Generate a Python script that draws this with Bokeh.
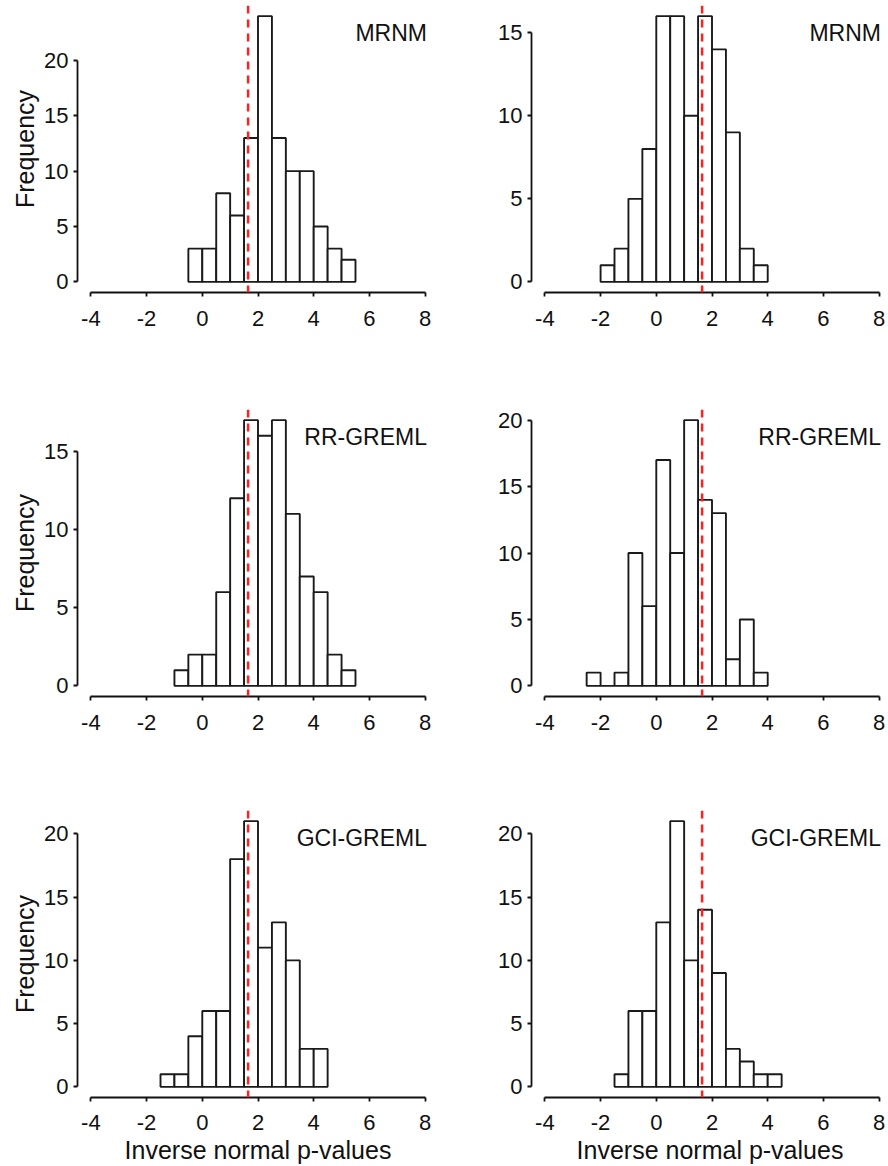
from bokeh.plotting import figure
from bokeh.layouts import column, row
from bokeh.models import Span, Label, FixedTicker, Range1d, CustomJSTickFormatter
from bokeh.embed import file_html
from bokeh.resources import INLINE

# ---------------- data ----------------
BIN_WIDTH = 0.5
THRESHOLD = 1.645          # dashed red reference line
X_TICKS = [-4, -2, 0, 2, 4, 6, 8]
METHODS = ["MRNM", "RR-GREML", "GCI-GREML"]

mrnm_left_start = -0.5
mrnm_left_counts = [3, 3, 8, 6, 13, 24, 13, 10, 10, 5, 3, 2]
mrnm_right_start = -2.0
mrnm_right_counts = [1, 2, 5, 8, 16, 16, 10, 16, 14, 9, 2, 1]

rr_left_start = -1.0
rr_left_counts = [1, 2, 2, 6, 12, 17, 16, 17, 11, 7, 6, 2, 1]
rr_right_start = -2.5
rr_right_counts = [1, 0, 1, 10, 6, 17, 10, 20, 14, 13, 2, 5, 1]

gci_left_start = -1.5
gci_left_counts = [1, 1, 4, 6, 6, 18, 21, 11, 13, 10, 3, 3]
gci_right_start = -1.5
gci_right_counts = [1, 6, 6, 13, 21, 10, 14, 9, 3, 2, 1, 1]

PANELS = [
    [(mrnm_left_start, mrnm_left_counts), (mrnm_right_start, mrnm_right_counts)],
    [(rr_left_start, rr_left_counts), (rr_right_start, rr_right_counts)],
    [(gci_left_start, gci_left_counts), (gci_right_start, gci_right_counts)],
]

# ---------------- layout / style ----------------
FONT = "Liberation Sans"
X0, X1 = -4.48, 8.48            # -4..8 with R's 4% extension
REF_FW = 361.0
PPU_X = REF_FW / (X1 - X0)
REF_FH = 287.0

COLS = [dict(width=484, left=77, right=46, fw=361),
        dict(width=404, left=47, right=0, fw=357)]
ROWS = [dict(height=352, top=5, bottom=60, fh=287, tick_standoff=14),
        dict(height=408, top=57, bottom=64, fh=287, tick_standoff=14),
        dict(height=406, top=50, bottom=69, fh=287, tick_standoff=13)]


def make_panel(r, c, start, counts):
    cs, rs = COLS[c], ROWS[r]
    m = max(counts)
    y0 = -0.04 * m
    ppu_y = REF_FH / (1.08 * m)
    y1 = y0 + rs["fh"] / ppu_y
    x1 = X0 + cs["fw"] / PPU_X

    p = figure(width=cs["width"], height=rs["height"],
               x_range=Range1d(X0, x1), y_range=Range1d(y0, y1),
               output_backend="svg", toolbar_location=None,
               min_border_left=cs["left"], min_border_right=cs["right"],
               min_border_top=rs["top"], min_border_bottom=rs["bottom"])
    p.grid.visible = False
    p.outline_line_color = None
    p.background_fill_color = "white"
    p.border_fill_color = "white"

    lefts = [start + i * BIN_WIDTH for i in range(len(counts))]
    rights = [v + BIN_WIDTH for v in lefts]
    p.quad(left=lefts, right=rights, bottom=0, top=counts,
           fill_color="white", line_color="#1a1a1a", line_width=1.9)

    p.add_layout(Span(location=THRESHOLD, dimension="height",
                      line_color="#ff2020", line_width=2.5, line_dash="8 6"))

    top_tick = 5 * (m // 5)
    p.xaxis.ticker = FixedTicker(ticks=X_TICKS)
    p.xaxis.bounds = (X_TICKS[0], X_TICKS[-1])
    p.xaxis.formatter = CustomJSTickFormatter(code="return String(tick);")
    p.yaxis.ticker = FixedTicker(ticks=list(range(0, top_tick + 1, 5)))
    p.yaxis.bounds = (0, top_tick)

    for ax in (p.xaxis[0], p.yaxis[0]):
        ax.axis_line_color = "#111111"
        ax.axis_line_width = 1.8
        ax.major_tick_line_color = "#111111"
        ax.major_tick_line_width = 1.8
        ax.major_tick_in = 0
        ax.major_tick_out = 4
        ax.minor_tick_line_color = None
        ax.major_label_text_font = FONT
        ax.major_label_text_font_size = "22px"
        ax.major_label_text_color = "#111111"
        ax.axis_label_text_font = FONT
        ax.axis_label_text_font_size = "25px"
        ax.axis_label_text_font_style = "normal"
        ax.axis_label_text_color = "#111111"
    p.xaxis.major_label_standoff = rs["tick_standoff"]
    p.yaxis.major_label_standoff = 5

    if c == 0:
        p.yaxis.axis_label = "Frequency"
        p.yaxis.axis_label_standoff = 2
    if r == 2:
        p.xaxis.axis_label = "Inverse normal p-values"
        p.xaxis.axis_label_standoff = 3

    p.add_layout(Label(x=X1, y=y0 + REF_FH / ppu_y, x_offset=-11.5, y_offset=-27,
                       text=METHODS[r], text_align="right", text_baseline="alphabetic",
                       text_font=FONT, text_font_size="23px", text_color="#111111"))
    return p


rows = []
for r in range(3):
    figs = [make_panel(r, c, *PANELS[r][c]) for c in range(2)]
    rows.append(row(*figs))
layout = column(*rows)

open("out.html", "w").write(file_html(layout, INLINE))
